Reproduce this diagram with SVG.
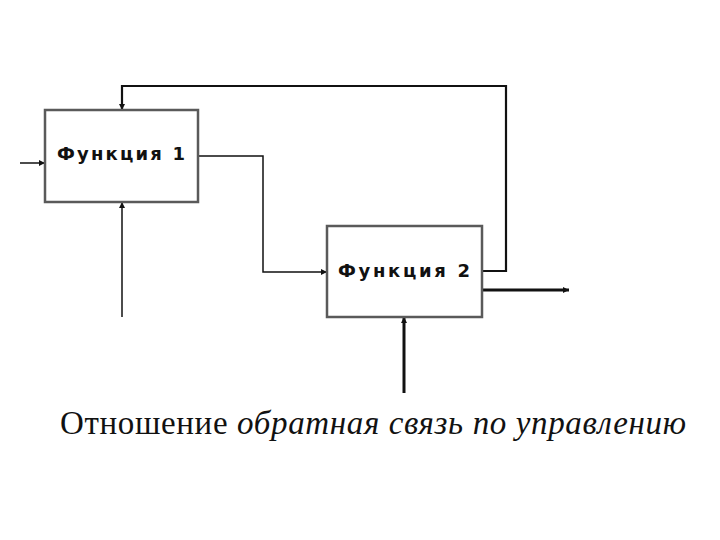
<svg xmlns="http://www.w3.org/2000/svg" width="720" height="540" viewBox="0 0 720 540">
<style>
.box{fill:#fff;stroke:#5a5a5a;stroke-width:2.5}
.lbl{font-family:"DejaVu Sans",Verdana,sans-serif;font-weight:bold;font-size:18px;fill:#111}
.ln{fill:none;stroke:#111;stroke-width:1.5}
.thick{fill:none;stroke:#111;stroke-width:3}
.cap{font-family:"Liberation Serif","Times New Roman",serif;font-size:33px;fill:#111}
</style>
<defs>
<marker id="ah" viewBox="0 0 6 6" refX="6" refY="3" markerWidth="6" markerHeight="6" orient="auto" markerUnits="userSpaceOnUse">
<path d="M0,0 L6,3 L0,6 z" fill="#111"/>
</marker>
</defs>
<g id="connectors">
<path class="ln" d="M20,163 H45" marker-end="url(#ah)"/>
<path class="ln" d="M122,317 V202" marker-end="url(#ah)"/>
<path class="ln" d="M198,156 H263 V272 H327" marker-end="url(#ah)"/>
<path class="ln" d="M482,271 H506 V86 H122 V110" style="stroke-width:2.2" marker-end="url(#ah)"/>
<path class="thick" d="M482,290 H569" marker-end="url(#ah)"/>
<path class="thick" d="M404,393 V317" marker-end="url(#ah)"/>
</g>
<g id="f1">
<rect class="box" x="45" y="110" width="153" height="92"/>
<text class="lbl" x="121" y="160" text-anchor="middle" textLength="128">Функция 1</text>
</g>
<g id="f2">
<rect class="box" x="327" y="226" width="155" height="91"/>
<text class="lbl" x="404" y="277" text-anchor="middle" textLength="132">Функция 2</text>
</g>
<text class="cap" x="60" y="434" textLength="626">Отношение <tspan font-style="italic">обратная связь по управлению</tspan></text>
</svg>
